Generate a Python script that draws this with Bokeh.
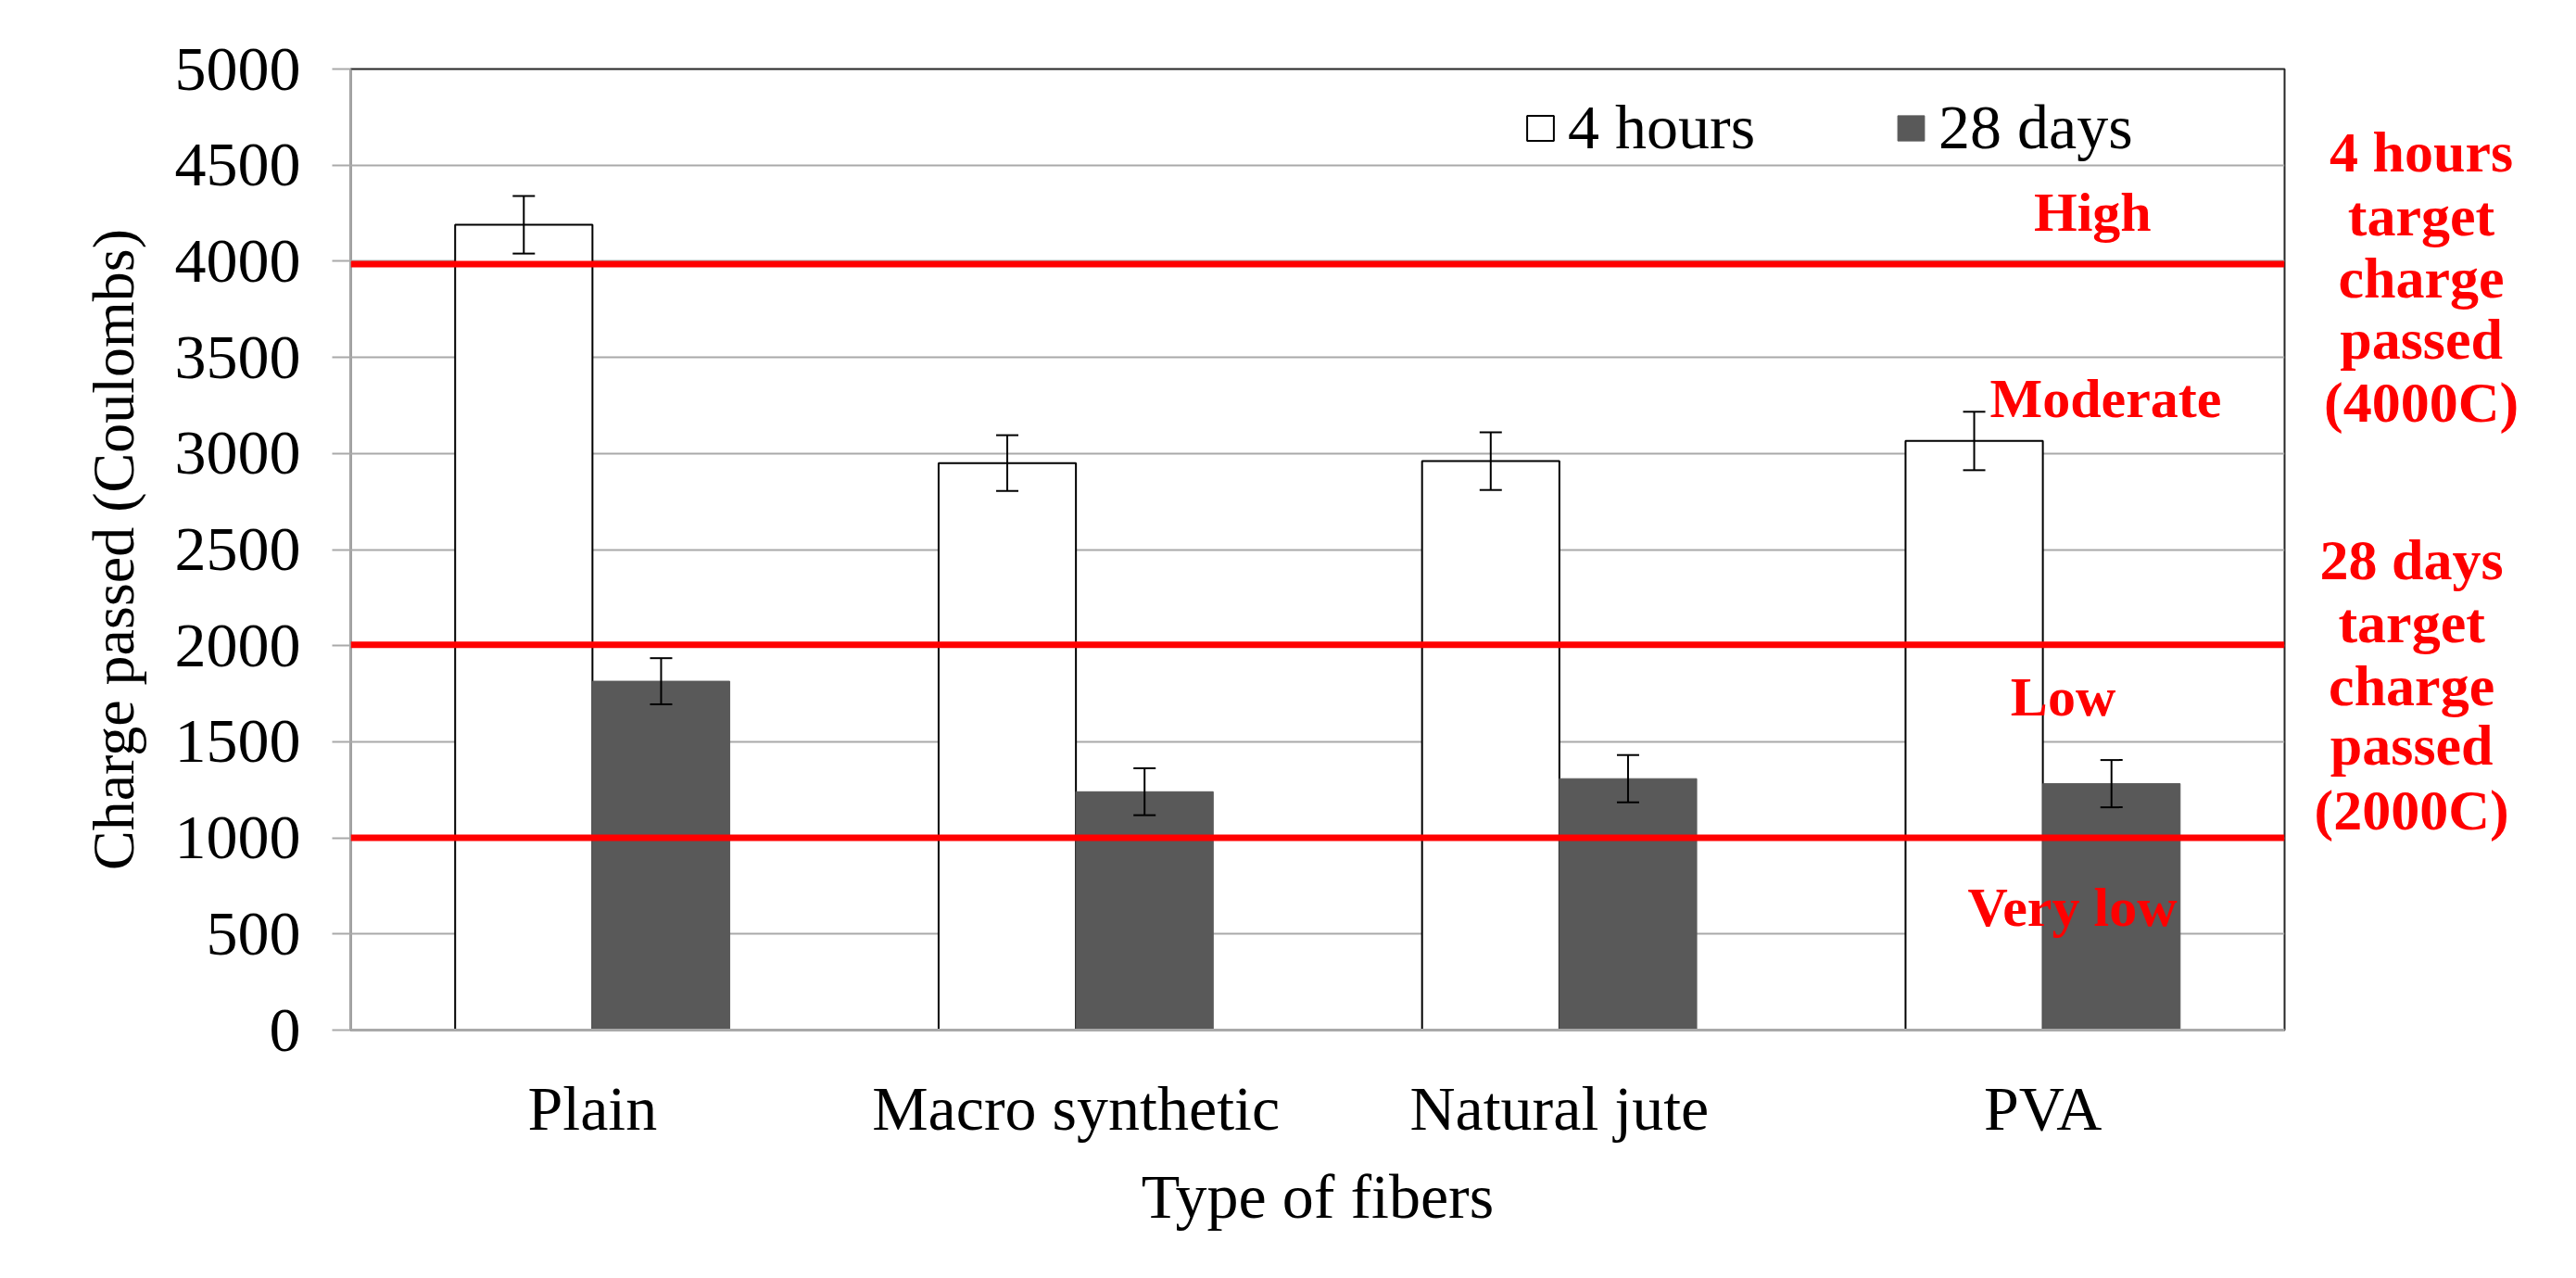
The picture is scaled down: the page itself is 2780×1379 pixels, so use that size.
from bokeh.plotting import figure
from bokeh.layouts import row
from bokeh.models import (FactorRange, Range1d, ColumnDataSource, Whisker, TeeHead,
                          Span, Label, Legend, LegendItem, FixedTicker)
from bokeh.core.properties import value
from bokeh.transform import dodge
from bokeh.embed import file_html
from bokeh.resources import INLINE

# ---------------- data ----------------
fibers = ["Plain", "Macro synthetic", "Natural jute", "PVA"]
series_names = ["4 hours", "28 days"]
hours4 = [4190, 2950, 2960, 3065]
hours4_err = [150, 145, 150, 152]
days28 = [1815, 1240, 1308, 1282]
days28_err = [120, 122, 123, 123]
y_ticks = [0, 500, 1000, 1500, 2000, 2500, 3000, 3500, 4000, 4500, 5000]
target_levels = [3985, 2005, 1000]
class_names = ["High", "Moderate", "Low", "Very low"]
note_4h = ["4 hours", "target", "charge", "passed", "(4000C)"]
note_28d = ["28 days", "target", "charge", "passed", "(2000C)"]

SERIF = "Liberation Serif"
GRID = "#A9A9A9"
DARK = "#595959"

src = ColumnDataSource(dict(
    fiber=fibers,
    h4=hours4,
    h4_lo=[v - e for v, e in zip(hours4, hours4_err)],
    h4_hi=[v + e for v, e in zip(hours4, hours4_err)],
    d28=days28,
    d28_lo=[v - e for v, e in zip(days28, days28_err)],
    d28_hi=[v + e for v, e in zip(days28, days28_err)],
))

yr = Range1d(0, 5000)
p = figure(width=2467, height=1363, x_range=FactorRange(*fibers),
           y_range=yr, output_backend="svg", toolbar_location=None,
           min_border_left=378, min_border_right=2, min_border_top=74,
           min_border_bottom=252)
p.background_fill_color = "white"
p.border_fill_color = "white"
p.outline_line_color = "#262626"
p.outline_line_width = 2

bw = 0.284
off = 0.142
r1 = p.vbar(x=dodge("fiber", -off, range=p.x_range), top="h4", width=bw, source=src,
            fill_color="white", line_color="black", line_width=2)
r2 = p.vbar(x=dodge("fiber", off, range=p.x_range), top="d28", width=bw, source=src,
            fill_color=DARK, line_color=DARK, line_width=1)

for base_off, lo, hi in [(-off, "h4_lo", "h4_hi"), (off, "d28_lo", "d28_hi")]:
    w = Whisker(base=dodge("fiber", base_off, range=p.x_range), lower=lo, upper=hi,
                source=src, line_color="black", line_width=2, level="annotation",
                upper_head=TeeHead(size=24, line_color="black", line_width=2),
                lower_head=TeeHead(size=24, line_color="black", line_width=2))
    p.add_layout(w)

for lvl in target_levels:
    p.add_layout(Span(location=lvl, dimension="width", line_color="#FF0000",
                      line_width=7, level="annotation"))

# axes
p.yaxis.ticker = FixedTicker(ticks=y_ticks)
p.yaxis.minor_tick_line_color = None
p.yaxis.major_tick_out = 20
p.yaxis.major_tick_in = 0
p.yaxis.major_tick_line_color = GRID
p.yaxis.major_tick_line_width = 2
p.yaxis.axis_line_color = GRID
p.yaxis.axis_line_width = 2
p.yaxis.major_label_text_font = SERIF
p.yaxis.major_label_text_font_size = "68px"
p.yaxis.major_label_text_color = "black"
p.yaxis.major_label_standoff = 34
p.yaxis.axis_label = "Charge passed (Coulombs)"
p.yaxis.axis_label_text_font = SERIF
p.yaxis.axis_label_text_font_size = "64px"
p.yaxis.axis_label_text_font_style = "normal"
p.yaxis.axis_label_text_color = "black"
p.yaxis.axis_label_standoff = 28

p.xaxis.major_tick_out = 0
p.xaxis.major_tick_in = 0
p.xaxis.minor_tick_line_color = None
p.xaxis.axis_line_color = GRID
p.xaxis.axis_line_width = 3
p.xaxis.major_label_text_font = SERIF
p.xaxis.major_label_text_font_size = "68px"
p.xaxis.major_label_text_color = "black"
p.xaxis.major_label_standoff = 46
p.xaxis.axis_label = "Type of fibers"
p.xaxis.axis_label_text_font = SERIF
p.xaxis.axis_label_text_font_size = "68px"
p.xaxis.axis_label_text_font_style = "normal"
p.xaxis.axis_label_text_color = "black"
p.xaxis.axis_label_standoff = 16

p.xgrid.grid_line_color = None
p.ygrid.ticker = FixedTicker(ticks=y_ticks)
p.ygrid.grid_line_color = GRID
p.ygrid.grid_line_width = 2

# legend
legend = Legend(items=[LegendItem(label=series_names[0], renderers=[r1]),
                       LegendItem(label=series_names[1], renderers=[r2])],
                orientation="horizontal", location=(1266, 934),
                label_text_font=SERIF, label_text_font_size="68px",
                label_text_color="black", glyph_width=36, glyph_height=34,
                label_standoff=12, spacing=150, padding=0, margin=0,
                border_line_color=None, background_fill_alpha=0)
p.add_layout(legend)

# class labels inside plot (data coordinates)
class_pos = [(3.603, 4255), (3.630, 3285), (3.542, 1735), (3.561, 640)]
for name, (cx, cy) in zip(class_names, class_pos):
    p.add_layout(Label(x=cx, y=cy, text=name, text_align="center",
                       text_baseline="middle", text_color="#FF0000",
                       text_font=SERIF, text_font_size="60px",
                       text_font_style="bold", level="annotation"))

# notes panel to the right of the plot, sharing the y scale
q = figure(width=297, height=1363, x_range=Range1d(0, 1), y_range=yr,
           output_backend="svg", toolbar_location=None,
           min_border_left=0, min_border_right=0, min_border_top=74,
           min_border_bottom=252)
q.axis.visible = False
q.grid.grid_line_color = None
q.outline_line_color = None
q.background_fill_color = "white"
q.border_fill_color = "white"

note_4h_y = [4570, 4238, 3914, 3596, 3268]
note_28d_y = [2449, 2121, 1793, 1484, 1147]
nx = [0.49] * len(note_4h) + [0.455] * len(note_28d)
q.text(x=nx, y=note_4h_y + note_28d_y, text=note_4h + note_28d,
       text_align="center", text_baseline="middle", text_color="#FF0000",
       text_font=value(SERIF), text_font_size="62px", text_font_style="bold")

layout = row(p, q)
open("out.html", "w").write(file_html(layout, INLINE))
